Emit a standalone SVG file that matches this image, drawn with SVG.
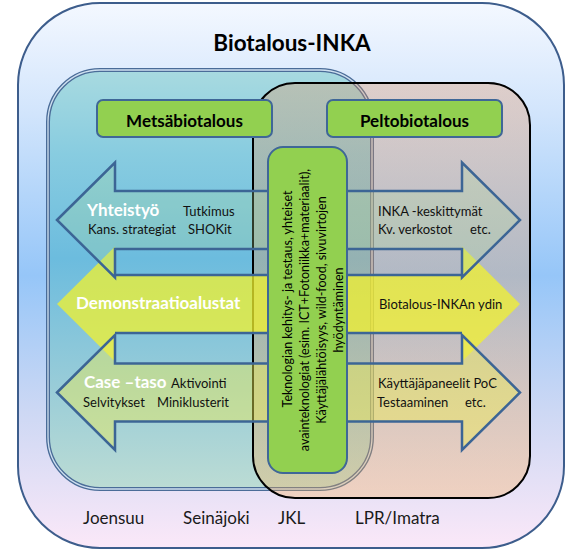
<svg xmlns="http://www.w3.org/2000/svg" width="581" height="551" viewBox="0 0 581 551">
<defs>
<linearGradient id="gOuter" x1="0" y1="0" x2="0" y2="1">
<stop offset="0" stop-color="#f4f8ff"/>
<stop offset="0.2" stop-color="#d2e5fc"/>
<stop offset="0.5" stop-color="#96c6f8"/>
<stop offset="0.75" stop-color="#cdd8f4"/>
<stop offset="1" stop-color="#fbe8f8"/>
</linearGradient>
<linearGradient id="gLeft" x1="0" y1="0" x2="0" y2="1">
<stop offset="0" stop-color="#a8dae0"/>
<stop offset="0.2" stop-color="#88cce0"/>
<stop offset="0.45" stop-color="#6cbcde"/>
<stop offset="0.75" stop-color="#98ccd8"/>
<stop offset="1" stop-color="#bcdcd4"/>
</linearGradient>
<linearGradient id="gRight" x1="0" y1="0" x2="0" y2="1">
<stop offset="0" stop-color="#e48d55" stop-opacity="0.3"/>
<stop offset="1" stop-color="#fbad4f" stop-opacity="0.32"/>
</linearGradient>
<style>
.txt{font-family:Lato,"Open Sans","Liberation Sans",sans-serif}
.sm{font-size:13px;fill:#111}
.wb{font-size:17px;font-weight:bold;fill:#fff}
.hd{font-size:17px;font-weight:bold;fill:#000;text-anchor:middle}
.loc{font-size:17px;fill:#1a1a1a}
.gbox{fill:#92d050;stroke:#3f6797;stroke-width:2}
.arrowline{fill:none;stroke:#3c6595;stroke-width:2.5;stroke-linejoin:miter}
</style>
</defs>

<g id="outer">
<rect x="18" y="3" width="546" height="545" rx="82" ry="82" fill="url(#gOuter)" stroke="#3d5d8c" stroke-width="2"/>
<text class="txt" x="292" y="51" font-size="22.5" font-weight="bold" text-anchor="middle" fill="#000">Biotalous-INKA</text>
</g>

<g id="metsa-area">
<rect x="48" y="70" width="324" height="419" rx="52" ry="52" fill="url(#gLeft)" stroke="#4a6c98" stroke-width="4"/>
<rect x="48" y="70" width="324" height="419" rx="52" ry="52" fill="none" stroke="#cfe0f0" stroke-width="1.3"/>
</g>

<g id="pelto-area">
<rect x="253" y="83" width="277" height="415" rx="42" ry="42" fill="url(#gRight)" stroke="#000" stroke-width="2"/>
</g>

<g id="connectors">
<g id="row2-arrow">
<polygon points="57,304 115,246.5 115,275 462,275 462,246.5 520,304 462,361.5 462,333 115,333 115,361.5" fill="#f1f12d" fill-opacity="0.75"/>
<path d="M115,275 H462 M115,333 H462" class="arrowline"/>
</g>
<g id="row1-arrow">
<polygon points="57,220 115,162.5 115,191 462,191 462,162.5 520,220 462,277.5 462,249 115,249 115,277.5" fill-opacity="0.27" class="arrowline" style="fill:#add99c"/>
</g>
<g id="row3-arrow">
<polygon points="57,392.5 115,335 115,363.5 462,363.5 462,335 520,392.5 462,450 462,421.5 115,421.5 115,450" fill-opacity="0.45" class="arrowline" style="fill:#eaea54"/>
</g>
</g>

<g id="tech-core">
<rect x="268" y="147" width="79" height="326" rx="15" ry="15" class="gbox"/>
<g class="txt" font-size="12.5" fill="#000" text-anchor="middle" transform="rotate(-90)">
<text x="-299" y="292">Teknologian kehitys- ja testaus, yhteiset</text>
<text x="-310" y="309">avainteknologiat (esim. ICT+Fotoniikka+materiaalit),</text>
<text x="-310" y="326">Käyttäjälähtöisyys, wild-food, sivuvirtojen</text>
<text x="-310" y="343">hyödyntäminen</text>
</g>
</g>

<g id="metsabiotalous">
<rect x="97" y="100" width="175" height="37" rx="6" ry="6" class="gbox"/>
<text class="txt hd" x="184.5" y="127">Metsäbiotalous</text>
</g>

<g id="peltobiotalous">
<rect x="327" y="100" width="175" height="37" rx="6" ry="6" class="gbox"/>
<text class="txt hd" x="414.5" y="127">Peltobiotalous</text>
</g>

<g id="row1-labels">
<text class="txt wb" x="87" y="216">Yhteistyö</text>
<text class="txt sm" x="183" y="216">Tutkimus</text>
<text class="txt sm" x="88" y="234">Kans. strategiat</text>
<text class="txt sm" x="188" y="234">SHOKit</text>
<text class="txt sm" x="378" y="216">INKA -keskittymät</text>
<text class="txt sm" x="378" y="234">Kv. verkostot</text>
<text class="txt sm" x="470" y="234">etc.</text>
</g>

<g id="row2-labels">
<text class="txt wb" x="76" y="309">Demonstraatioalustat</text>
<text class="txt sm" x="379" y="309">Biotalous-INKAn ydin</text>
</g>

<g id="row3-labels">
<text class="txt wb" x="84" y="388">Case –taso</text>
<text class="txt sm" x="171" y="388">Aktivointi</text>
<text class="txt sm" x="83" y="407">Selvitykset</text>
<text class="txt sm" x="157" y="407">Miniklusterit</text>
<text class="txt sm" x="378" y="388">Käyttäjäpaneelit PoC</text>
<text class="txt sm" x="377" y="407">Testaaminen</text>
<text class="txt sm" x="465" y="407">etc.</text>
</g>

<g id="locations">
<text class="txt loc" x="83" y="524">Joensuu</text>
<text class="txt loc" x="183" y="524">Seinäjoki</text>
<text class="txt loc" x="278" y="524">JKL</text>
<text class="txt loc" x="355" y="524">LPR/Imatra</text>
</g>
</svg>
